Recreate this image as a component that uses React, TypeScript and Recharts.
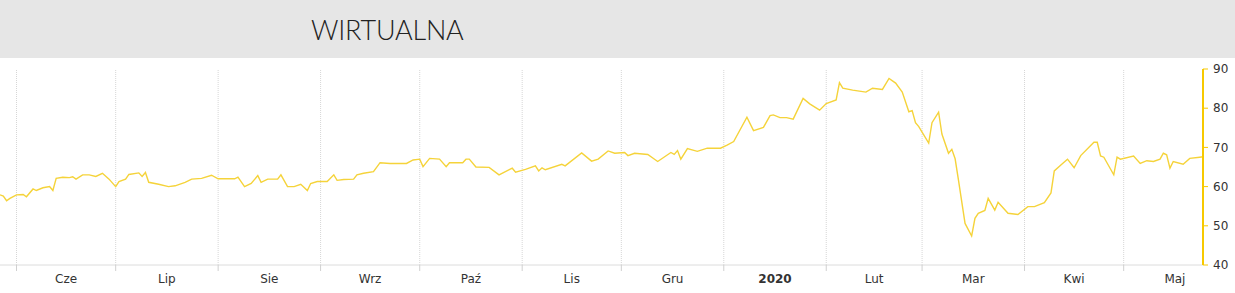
import React from "react";
import { LineChart, Line, XAxis, YAxis, ReferenceLine } from "recharts";

// day offsets from 2019-05-27
const days = [
  0, 1, 2, 3, 5, 7, 8, 10, 11, 13, 15, 16, 17, 19, 21, 22, 23, 25, 27, 29,
  31, 33, 35, 36, 38, 39, 42, 43, 44, 45, 48, 51, 53, 56, 58, 61, 64, 66, 69, 71,
  72, 74, 76, 78, 79, 81, 84, 85, 87, 89, 91, 93, 94, 96, 99, 101, 102, 104, 107, 108,
  110, 113, 115, 118, 123, 125, 127, 128, 130, 133, 135, 136, 140, 141, 142, 144, 148, 151, 155, 156,
  159, 162, 163, 164, 165, 170, 171, 176, 179, 181, 184, 186, 189, 190, 192, 196, 199, 203, 204, 205,
  206, 208, 211, 214, 218, 220, 222, 226, 228, 231, 233, 234, 236, 238, 240, 243, 245, 248, 250, 253,
  254, 255, 258, 262, 264, 267, 269, 271, 273, 275, 276, 277, 278, 281, 282, 284, 285, 287, 288, 289,
  290, 292, 294, 295, 296, 298, 299, 301, 302, 305, 308, 311, 313, 316, 318, 319, 321, 323, 325, 327,
  331, 332, 333, 334, 337, 338, 339, 343, 345, 347, 349, 351, 352, 353, 354, 355, 358, 360, 363, 364,
];

const prices = [
  57.9, 57.6, 56.4, 57.0, 57.9, 58.0, 57.4, 59.4, 59.0, 59.7, 60.0, 59.0, 62.1, 62.4, 62.3, 62.5, 61.9, 63.0, 63.0, 62.6,
  63.4, 61.9, 60.0, 61.3, 61.9, 63.1, 63.5, 62.6, 63.6, 61.1, 60.6, 60.0, 60.2, 61.1, 61.9, 62.1, 62.9, 62.0, 62.0, 62.0,
  62.4, 60.0, 60.8, 62.8, 61.1, 61.9, 61.9, 63.0, 60.0, 60.0, 60.6, 59.0, 60.8, 61.3, 61.3, 63.0, 61.6, 61.8, 61.9, 63.0,
  63.4, 63.8, 66.1, 65.9, 65.9, 66.8, 67.0, 65.1, 67.2, 67.0, 65.1, 66.1, 66.1, 67.0, 67.0, 65.0, 64.9, 63.0, 64.7, 63.7,
  64.4, 65.3, 64.0, 64.8, 64.3, 65.7, 65.3, 68.6, 66.5, 67.0, 69.1, 68.5, 68.7, 67.9, 68.5, 68.2, 66.4, 68.7, 68.2, 69.2,
  67.0, 69.7, 69.0, 69.8, 69.8, 70.6, 71.5, 77.7, 74.3, 75.1, 78.1, 78.3, 77.6, 77.6, 77.2, 82.5, 81.1, 79.5, 81.2, 82.1,
  86.5, 85.1, 84.6, 84.1, 85.1, 84.8, 87.6, 86.4, 84.1, 79.1, 79.4, 76.3, 75.3, 71.1, 76.3, 79.0, 73.4, 68.5, 69.5, 67.1,
  61.7, 50.6, 47.4, 51.9, 53.2, 53.9, 57.0, 54.0, 56.0, 53.2, 52.9, 54.9, 54.9, 55.9, 58.4, 64.0, 65.5, 67.0, 64.8, 67.9,
  71.3, 71.3, 67.8, 67.5, 63.0, 67.5, 67.0, 67.8, 65.9, 66.6, 66.4, 67.0, 68.5, 68.1, 64.7, 66.4, 65.7, 67.2, 67.5, 67.6,
];

const monthStarts = [5, 35, 66, 97, 127, 158, 188, 219, 250, 279, 310, 340, 371];
const monthLabels = ["Cze", "Lip", "Sie", "Wrz", "Paź", "Lis", "Gru", "2020", "Lut", "Mar", "Kwi", "Maj"];
const yTicks = [40, 50, 60, 70, 80, 90];
const title = "WIRTUALNA";

const data = days.map((d, i) => ({ day: d, price: prices[i] }));
const gridStarts = monthStarts.slice(0, monthStarts.length - 1);
const midTicks = monthLabels.map((_, i) => (monthStarts[i] + monthStarts[i + 1]) / 2);
const allTicks = [...gridStarts, ...midTicks].sort((a, b) => a - b);

const TICK_SIZE = 6;
const TICK_MARGIN = 3;

const XTick = (props: any) => {
  const { x, y, payload } = props;
  const v = payload.value;
  const mi = midTicks.indexOf(v);
  if (mi >= 0) {
    const label = monthLabels[mi];
    return (
      <text
        x={x}
        y={y}
        dy="0.71em"
        textAnchor="middle"
        fill="#333"
        fontSize={12}
        fontFamily="DejaVu Sans, Verdana, sans-serif"
        fontWeight={label === "2020" ? "bold" : "normal"}
      >
        {label}
      </text>
    );
  }
  return <line x1={x} x2={x} y1={y - TICK_MARGIN - TICK_SIZE} y2={y - TICK_MARGIN} stroke="#d0d0d0" />;
};

export default function App() {
  return (
    <div style={{ width: 1235, height: 293, background: "#fff", position: "relative" }}>
      <style>{`body{margin:0}`}</style>
      <div
        style={{
          height: 58,
          background: "#e6e6e6",
          display: "flex",
          alignItems: "center",
          paddingLeft: 311,
          boxSizing: "border-box",
          fontFamily: "Lato, 'Open Sans', sans-serif",
          fontWeight: 300,
          fontSize: 27,
          letterSpacing: -0.2,
          color: "#222",
        }}
      >
        {title}
      </div>
      <LineChart width={1235} height={235} data={data} margin={{ top: 11, right: 0, left: 0, bottom: 0 }}>
        <XAxis
          dataKey="day"
          type="number"
          domain={[0, 364]}
          ticks={allTicks}
          interval={0}
          height={28}
          tickLine={false}
          tickSize={TICK_SIZE}
          tickMargin={TICK_MARGIN}
          axisLine={{ stroke: "#dcdcdc" }}
          tick={<XTick />}
          allowDataOverflow
        />
        <YAxis
          orientation="right"
          domain={[40, 90]}
          ticks={yTicks}
          width={32}
          axisLine={{ stroke: "#f7c900", strokeWidth: 2 }}
          tickLine={{ stroke: "#f7c900" }}
          tickSize={5}
          tickMargin={5}
          tick={{ fill: "#333", fontSize: 12, fontFamily: "DejaVu Sans, Verdana, sans-serif" }}
          allowDataOverflow
        />
        {gridStarts.map((m) => (
          <ReferenceLine key={m} x={m} stroke="#d6d6d6" strokeDasharray="1 1" />
        ))}
        <Line
          type="linear"
          dataKey="price"
          stroke="#f5d33a"
          strokeWidth={1.4}
          dot={false}
          activeDot={false}
          isAnimationActive={false}
        />
      </LineChart>
    </div>
  );
}
